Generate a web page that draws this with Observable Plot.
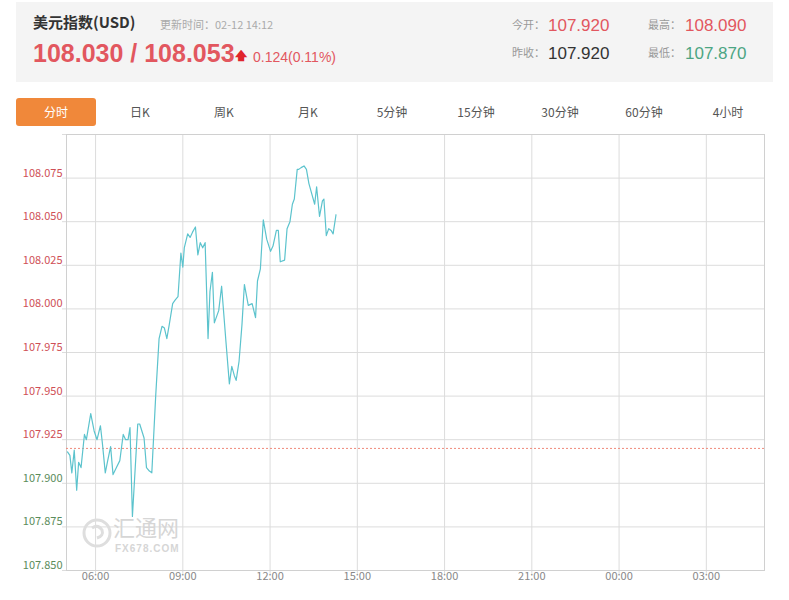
<!DOCTYPE html>
<html><head><meta charset="utf-8">
<script src="https://cdn.jsdelivr.net/npm/d3@7"></script>
<script src="https://cdn.jsdelivr.net/npm/@observablehq/plot@0.6"></script>
<style>
body{margin:0;background:#fff;font-family:"Liberation Sans",Arial,sans-serif;width:789px;height:600px;overflow:hidden;position:relative}
.hdr{position:absolute;left:16px;top:2px;width:757px;height:80px;background:#f4f4f4}
.a{position:absolute;white-space:nowrap;line-height:1}
.cjk{font-family:"Noto Sans CJK SC","Liberation Sans",sans-serif}
.lbl{font-size:11px;color:#999}
.tab{position:absolute;top:98px;width:80px;height:28px;line-height:28px;text-align:center;font-size:12px;color:#555;font-family:"Noto Sans CJK SC",sans-serif}
.tab.on{background:#f0883a;color:#fff;border-radius:3px}
#chart{position:absolute;left:0;top:130px}
.wm{position:absolute;color:#d6d6d6;white-space:nowrap;line-height:1}
</style></head><body>
<div class="hdr"></div>
<div class="a cjk" style="left:33px;top:14px;font-size:15px;font-weight:bold;color:#333">美元指数(USD)</div>
<div class="a cjk lbl" style="left:160px;top:19px;color:#aaa">更新时间：02-12 14:12</div>
<div class="a" style="left:33px;top:41px;font-size:25px;font-weight:bold;color:#e2575f">108.030 / 108.053</div>
<div class="a" style="left:235px;top:50px;font-size:12px;font-weight:bold;color:#e0242c">&#129093;</div>
<div class="a" style="left:253px;top:50px;font-size:14px;color:#e2575f">0.124(0.11%)</div>
<div class="a cjk lbl" style="left:512px;top:19px">今开：</div>
<div class="a" style="left:548px;top:17px;font-size:17px;color:#e2575f">107.920</div>
<div class="a cjk lbl" style="left:648px;top:19px">最高：</div>
<div class="a" style="left:685px;top:17px;font-size:17px;color:#e2575f">108.090</div>
<div class="a cjk lbl" style="left:512px;top:47px">昨收：</div>
<div class="a" style="left:548px;top:45px;font-size:17px;color:#333">107.920</div>
<div class="a cjk lbl" style="left:648px;top:47px">最低：</div>
<div class="a" style="left:685px;top:45px;font-size:17px;color:#4ca583">107.870</div>
<div id="tabs"></div>
<div id="chart"></div>
<svg style="position:absolute;left:82px;top:516px" width="32" height="34"><circle cx="15" cy="17" r="13" fill="none" stroke="#dedede" stroke-width="3"/><path d="M10 12 Q16 8 20 14 Q22 20 15 22" fill="none" stroke="#dedede" stroke-width="3"/></svg>
<div class="wm cjk" style="left:113px;top:515px;font-size:22px">汇通网</div>
<div class="wm" style="left:115px;top:544px;font-size:10px;font-weight:bold;letter-spacing:1px">FX678.COM</div>
<script>
const tabLabels = ["分时","日K","周K","月K","5分钟","15分钟","30分钟","60分钟","4小时"];
const times = ["05:02","05:07","05:11","05:16","05:21","05:25","05:30","05:37","05:41","05:50","05:57","06:03","06:10","06:14","06:20","06:25","06:31","06:36","06:43","06:50","06:57","07:02","07:07","07:11","07:16","07:27","07:31","07:40","07:45","07:51","07:56","08:04","08:11","08:17","08:22","08:27","08:32","08:39","08:44","08:50","08:56","09:00","09:03","09:10","09:15","09:20","09:26","09:31","09:36","09:41","09:46","09:52","09:56","10:01","10:05","10:14","10:20","10:29","10:36","10:41","10:46","10:50","10:56","11:02","11:07","11:15","11:23","11:30","11:34","11:40","11:46","11:53","12:01","12:06","12:13","12:17","12:21","12:30","12:35","12:41","12:46","12:50","12:56","12:59","13:04","13:10","13:15","13:20","13:25","13:32","13:36","13:42","13:48","13:51","13:56","14:01","14:06","14:10","14:16"];
const prices = [107.918,107.916,107.906,107.919,107.896,107.912,107.909,107.928,107.925,107.940,107.930,107.925,107.933,107.923,107.906,107.913,107.921,107.905,107.909,107.913,107.928,107.925,107.925,107.932,107.881,107.934,107.934,107.926,107.909,107.907,107.906,107.950,107.983,107.990,107.989,107.983,107.991,108.003,108.005,108.007,108.032,108.024,108.035,108.043,108.041,108.044,108.047,108.031,108.038,108.035,108.038,107.983,108.010,108.021,107.992,107.999,108.013,107.981,107.957,107.967,107.962,107.959,107.970,107.991,108.014,108.002,108.003,107.995,108.016,108.023,108.051,108.040,108.033,108.036,108.045,108.045,108.027,108.028,108.046,108.050,108.060,108.063,108.080,108.080,108.081,108.082,108.080,108.072,108.067,108.060,108.070,108.053,108.062,108.063,108.042,108.046,108.045,108.043,108.054];
const prevClose = 107.920;
const yTicks = [107.850,107.875,107.900,107.925,107.950,107.975,108.000,108.025,108.050,108.075];
const yGrid = [107.850,107.875,107.900,107.925,107.950,107.975,108.000,108.025,108.050,108.075,108.100];
const xTickLabels = ["06:00","09:00","12:00","15:00","18:00","21:00","00:00","03:00"];
const sessionStart = "05:00", sessionEnd = "05:00";

function toDate(s, nextDayIfBefore5) {
  const [h, m] = s.split(":").map(Number);
  const day = (nextDayIfBefore5 && h < 5) ? 13 : 12;
  return new Date(Date.UTC(2025, 1, day, h, m));
}
const t0 = toDate(sessionStart, false);
const t1 = new Date(Date.UTC(2025, 1, 13, 5, 0));
const n = Math.min(times.length, prices.length);
const data = d3.range(n).map(i => ({t: toDate(times[i], false), v: prices[i]}));
const xTicks = xTickLabels.map(s => toDate(s, true));

// tabs
const tabsEl = document.getElementById("tabs");
tabLabels.forEach((l, i) => {
  const d = document.createElement("div");
  d.className = "tab" + (i === 0 ? " on" : "");
  d.style.left = (16 + 84 * i) + "px";
  d.textContent = l;
  tabsEl.appendChild(d);
});

const fmt = d3.format(".3f");
const chart = Plot.plot({
  width: 789,
  height: 470,
  marginTop: 4,
  marginBottom: 30,
  marginLeft: 66,
  marginRight: 25,
  x: {type: "utc", domain: [t0, t1], axis: null},
  y: {domain: [107.85, 108.10], axis: null},
  style: {fontFamily: "'Noto Sans CJK SC', 'Liberation Sans', sans-serif", background: "transparent"},
  marks: [
    Plot.ruleY(yGrid, {stroke: "#dcdcdc", strokeWidth: 1, insetLeft: -4}),
    Plot.ruleX(xTicks, {stroke: "#dcdcdc", strokeWidth: 1, insetBottom: -4}),
    Plot.frame({stroke: "#d0d0d0"}),
    Plot.ruleY([prevClose], {stroke: "#f08a7a", strokeWidth: 1, strokeDasharray: "2,2"}),
    Plot.line(data, {x: "t", y: "v", stroke: "#5cc3cd", strokeWidth: 1.2}),
    Plot.text(yTicks, {y: d => d, frameAnchor: "left", textAnchor: "end", dx: -4, dy: -5, text: d => fmt(d), fontSize: 11,
      fill: d => d > prevClose ? "#cf4f56" : "#5b8c5b"}),
    Plot.text(xTicks, {x: d => d, frameAnchor: "bottom", dy: 9, text: d => d3.utcFormat("%H:%M")(d), fontSize: 11, fill: "#888"})
  ]
});
document.getElementById("chart").appendChild(chart);
</script>
</body></html>
